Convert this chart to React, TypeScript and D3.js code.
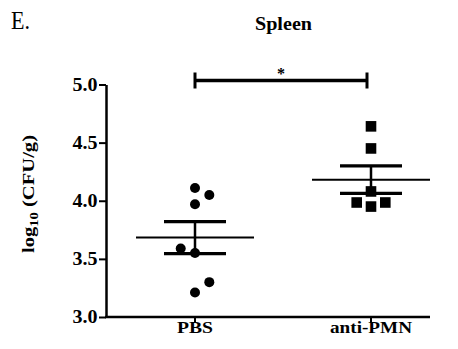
import React, { useEffect, useRef } from 'react';
import * as d3 from 'd3';

// groups on the x axis
const groups = ['PBS', 'anti-PMN'];

// log10 CFU/g
const pbsValues = [4.11, 4.05, 3.97, 3.59, 3.55, 3.30, 3.21];
const pmnValues = [4.64, 4.45, 4.08, 3.985, 3.95, 3.985];

// jitter slot for each point (-1 left, 0 centre, 1 right)
const pbsSlots = [0, 1, 0, -1, 0, 1, 0];
const pmnSlots = [0, 0, 0, -1, 0, 1];

const yTicks = [3.0, 3.5, 4.0, 4.5, 5.0];

const W = 458;
const H = 349;
const FONT = '"Liberation Serif", "Times New Roman", serif';

function meanSem(vals: number[]) {
    const m = d3.mean(vals) as number;
    const sd = d3.deviation(vals) as number;
    return { mean: m, sem: sd / Math.sqrt(vals.length) };
}

export default function App() {
    const ref = useRef<SVGSVGElement | null>(null);

    useEffect(() => {
        const svg = d3.select(ref.current);
        svg.selectAll('*').remove();

        const axisLeftX = 106;
        const axisRightX = 430;
        const y = d3.scaleLinear().domain([3, 5]).range([317, 84.5]);
        const x = d3.scalePoint<string>().domain(groups).range([195, 371]);
        const jitter = 14.3;

        // panel letter + title
        svg.append('text')
            .attr('x', 11).attr('y', 29)
            .attr('textLength', 19).attr('lengthAdjust', 'spacingAndGlyphs')
            .style('font-family', FONT).style('font-size', '26px')
            .text('E.');
        svg.append('text')
            .attr('x', 255).attr('y', 30)
            .attr('textLength', 57).attr('lengthAdjust', 'spacingAndGlyphs')
            .style('font-family', FONT).style('font-size', '19px').style('font-weight', 'bold')
            .text('Spleen');

        // y axis
        const yAxis = svg.append('g')
            .attr('transform', `translate(${axisLeftX},0)`)
            .call(d3.axisLeft(y).tickValues(yTicks).tickFormat(d3.format('.1f')).tickSize(7).tickSizeOuter(0));
        yAxis.select('.domain').attr('stroke', '#000').attr('stroke-width', 2.5);
        yAxis.selectAll('.tick line').attr('stroke', '#000').attr('stroke-width', 2);
        yAxis.selectAll('.tick text')
            .attr('x', -8.5)
            .attr('fill', '#000')
            .attr('textLength', 25).attr('lengthAdjust', 'spacingAndGlyphs')
            .style('font-family', FONT).style('font-size', '18px').style('font-weight', 'bold');

        // x axis
        const base = y(3);
        svg.append('line')
            .attr('x1', axisLeftX - 1).attr('x2', axisRightX)
            .attr('y1', base).attr('y2', base)
            .attr('stroke', '#000').attr('stroke-width', 2.5);
        const xLabelWidth = [36, 82];
        groups.forEach((g, i) => {
            svg.append('line')
                .attr('x1', x(g)!).attr('x2', x(g)!)
                .attr('y1', base).attr('y2', base + 6)
                .attr('stroke', '#000').attr('stroke-width', 2);
            svg.append('text')
                .attr('x', x(g)!).attr('y', base + 16)
                .attr('text-anchor', 'middle')
                .attr('textLength', xLabelWidth[i]).attr('lengthAdjust', 'spacingAndGlyphs')
                .style('font-family', FONT).style('font-size', '17px').style('font-weight', 'bold')
                .text(g);
        });

        // y label
        const lab = svg.append('text')
            .attr('transform', `translate(33.5,194) rotate(-90)`)
            .attr('text-anchor', 'middle')
            .attr('textLength', 118).attr('lengthAdjust', 'spacingAndGlyphs')
            .style('font-family', FONT).style('font-size', '17px').style('font-weight', 'bold');
        lab.append('tspan').text('log');
        lab.append('tspan').attr('dy', 4).style('font-size', '12px').text('10');
        lab.append('tspan').attr('dy', -4).text(' (CFU/g)');

        // mean +/- sem
        const series = [pbsValues, pmnValues];
        series.forEach((vals, i) => {
            const cx = x(groups[i])!;
            const { mean, sem } = meanSem(vals);
            svg.append('line')
                .attr('x1', cx - 59).attr('x2', cx + 59)
                .attr('y1', y(mean)).attr('y2', y(mean))
                .attr('stroke', '#000').attr('stroke-width', 2);
            svg.append('line')
                .attr('x1', cx).attr('x2', cx)
                .attr('y1', y(mean + sem)).attr('y2', y(mean - sem))
                .attr('stroke', '#000').attr('stroke-width', 2.5);
            [mean + sem, mean - sem].forEach((v) => {
                svg.append('line')
                    .attr('x1', cx - 31).attr('x2', cx + 31)
                    .attr('y1', y(v)).attr('y2', y(v))
                    .attr('stroke', '#000').attr('stroke-width', 3.2);
            });
        });

        // points
        svg.selectAll('circle.pt')
            .data(pbsValues)
            .enter()
            .append('circle')
            .attr('class', 'pt')
            .attr('cx', (d, i) => x('PBS')! + pbsSlots[i] * jitter)
            .attr('cy', (d) => y(d))
            .attr('r', 5)
            .attr('fill', '#000');
        svg.selectAll('rect.pt')
            .data(pmnValues)
            .enter()
            .append('rect')
            .attr('class', 'pt')
            .attr('x', (d, i) => x('anti-PMN')! + pmnSlots[i] * jitter - 5.3)
            .attr('y', (d) => y(d) - 5.3)
            .attr('width', 10.6)
            .attr('height', 10.6)
            .attr('fill', '#000');

        // significance bracket
        const by = 80.5;
        const bx1 = x('PBS')!;
        const bx2 = x('anti-PMN')! - 4;
        svg.append('line')
            .attr('x1', bx1).attr('x2', bx2).attr('y1', by).attr('y2', by)
            .attr('stroke', '#000').attr('stroke-width', 3.5);
        [bx1, bx2].forEach((bx) => {
            svg.append('line')
                .attr('x1', bx).attr('x2', bx).attr('y1', by - 8).attr('y2', by + 8)
                .attr('stroke', '#000').attr('stroke-width', 3);
        });
        svg.append('text')
            .attr('x', (bx1 + bx2) / 2).attr('y', by - 2)
            .attr('text-anchor', 'middle')
            .style('font-family', FONT).style('font-size', '16px').style('font-weight', 'bold')
            .text('*');
    }, []);

    return (
        <svg
            ref={ref}
            width={W}
            height={H}
            style={{ position: 'absolute', left: 0, top: 0, background: '#fff' }}
        />
    );
}
